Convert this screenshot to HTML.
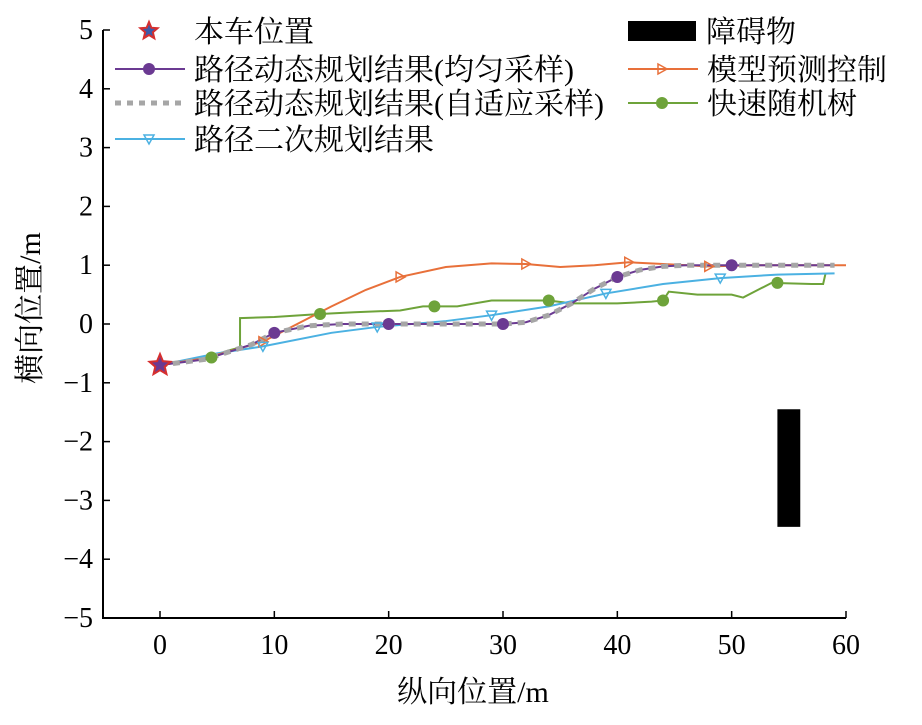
<!DOCTYPE html>
<html><head><meta charset="utf-8"><style>
body{margin:0;background:#fff}
svg text{font-family:"Liberation Serif","Noto Serif CJK SC",serif;fill:#000}
</style></head><body>
<svg id="c" width="922" height="720"></svg>
<script>
const xTicks=[0,10,20,30,40,50,60];
const yTicks=[-5,-4,-3,-2,-1,0,1,2,3,4,5];
const purpleX=[0,4,8,10,13,16,20,25,30,32,34,36,38,40,42,44,46,50,55,59];
const purpleY=[-0.7,-0.6,-0.35,-0.15,-0.03,0,0,0,0,0.03,0.15,0.35,0.6,0.8,0.92,0.98,1,1,1,1];
const purpleMarkX=[10,20,30,40,50];
const purpleMarkY=[-0.15,0,0,0.8,1];
const orangeX=[0,4,9,12,15,18,21,25,29,32,35,38,41,44,48,52,56,60];
const orangeY=[-0.7,-0.58,-0.3,0,0.3,0.58,0.8,0.97,1.03,1.02,0.97,1.0,1.05,1.02,0.98,1.0,1.0,1.0];
const orangeMarkX=[9,21,32,41,48];
const orangeMarkY=[-0.3,0.8,1.02,1.05,0.98];
const blueX=[0,5,9,15,19,25,29,34,39,44,49,54,59];
const blueY=[-0.7,-0.5,-0.38,-0.15,-0.05,0.05,0.15,0.3,0.52,0.68,0.78,0.84,0.86];
const blueMarkX=[9,19,29,39,49];
const blueMarkY=[-0.38,-0.05,0.15,0.52,0.78];
const greenX=[0,4,6,7,7,10,14,17,21,23,26,29,32,34,36,40,43,44,44.5,47,50,51,52,53.5,57,58,58.2];
const greenY=[-0.7,-0.58,-0.45,-0.4,0.1,0.12,0.17,0.2,0.23,0.3,0.3,0.4,0.4,0.4,0.35,0.35,0.38,0.4,0.55,0.5,0.5,0.45,0.55,0.7,0.68,0.68,0.85];
const greenMarkX=[4.5,14,24,34,44,54];
const greenMarkY=[-0.57,0.17,0.3,0.4,0.4,0.7];
const obstacle=[54,56,-1.45,-3.45];

const L=103,R=846,T=30,B=618;
const sx=v=>160+(v)*(846-160)/60;
const sy=v=>324-v*58.8;
const svg=document.getElementById('c');
const NS='http://www.w3.org/2000/svg';
function mk(t,a,p){const e=document.createElementNS(NS,t);for(const k in a)e.setAttribute(k,a[k]);(p||svg).appendChild(e);return e;}
let ob=mk('rect',{x:sx(obstacle[0]),y:sy(obstacle[2]),width:sx(obstacle[1])-sx(obstacle[0]),height:sy(obstacle[3])-sy(obstacle[2]),fill:'#000'});


let ax=mk('path',{d:`M${L},${T}V${B}H${R}`,stroke:'#000','stroke-width':2,fill:'none'});


xTicks.forEach(v=>{mk('line',{x1:sx(v),x2:sx(v),y1:B,y2:B-7,stroke:'#000','stroke-width':1.5});
 const t=mk('text',{x:sx(v),y:654,'font-size':28,'text-anchor':'middle'});t.textContent=v;
 
 });
yTicks.forEach(v=>{mk('line',{x1:L,x2:L+7,y1:sy(v),y2:sy(v),stroke:'#000','stroke-width':1.5});
 const t=mk('text',{x:93,y:sy(v)+9,'font-size':28,'text-anchor':'end'});t.textContent=(v<0?'\u2212'+(-v):v);
 
 });
let xt=mk('text',{x:473,y:702,'font-size':30,'text-anchor':'middle'});xt.textContent='纵向位置/m';


let yt=mk('text',{x:0,y:0,'font-size':30,'text-anchor':'middle',transform:'translate(40,308) rotate(-90)'});yt.textContent='横向位置/m';


function line(xs,ys,col,w,dash,name){const d=xs.map((x,i)=>(i?'L':'M')+sx(x)+','+sy(ys[i])).join('');
 const p=mk('path',{d,stroke:col,'stroke-width':w,fill:'none','stroke-dasharray':dash||'none'});
 
 }
function marker(type,x,y,col,p){
 if(type=='circle')mk('circle',{cx:x,cy:y,r:6,fill:col},p);
 else if(type=='tri-right')mk('path',{d:`M${x-4},${y-5}L${x+5},${y}L${x-4},${y+5}Z`,fill:'none',stroke:col,'stroke-width':1.5},p);
 else if(type=='tri-down')mk('path',{d:`M${x-5},${y-4}L${x+5},${y-4}L${x},${y+5}Z`,fill:'none',stroke:col,'stroke-width':1.5},p);}
line(greenX,greenY,'#6ea33a',2,null,'series-rrt');
line(blueX,blueY,'#4bb1e2',2,null,'series-secondary-planning');
line(orangeX,orangeY,'#e8703a',2,null,'series-mpc');
line(purpleX,purpleY,'#6b3a92',2,null,'series-uniform');
line(purpleX,purpleY,'#a6a6a6',5,'7,6','series-adaptive');
purpleMarkX.forEach((x,i)=>marker('circle',sx(x),sy(purpleMarkY[i]),'#6b3a92'));
orangeMarkX.forEach((x,i)=>marker('tri-right',sx(x),sy(orangeMarkY[i]),'#e8703a'));
blueMarkX.forEach((x,i)=>marker('tri-down',sx(x),sy(blueMarkY[i]),'#4bb1e2'));
greenMarkX.forEach((x,i)=>marker('circle',sx(x),sy(greenMarkY[i]),'#6ea33a'));
function star(cx,cy,r,col,fill){let d='';for(let i=0;i<10;i++){const a=-Math.PI/2+i*Math.PI/5,rr=i%2?r*0.45:r;d+=(i?'L':'M')+(cx+rr*Math.cos(a))+','+(cy+rr*Math.sin(a));}
 mk('path',{d:d+'Z',fill:fill,stroke:col,'stroke-width':2});}
star(sx(0),sy(-0.7),11,'#d62f2f','#6b3a92');
const leg=[[115,31,'star','本车位置'],[115,69,'purple','路径动态规划结果(均匀采样)'],[115,103,'gray','路径动态规划结果(自适应采样)'],[115,139,'blue','路径二次规划结果'],
[628,31,'black','障碍物'],[628,69,'orange','模型预测控制'],[628,103,'green','快速随机树']];
leg.forEach(([x,y,k,txt])=>{const g=mk('g',{});
 
 
 const xm=x+34;
 if(k=='star')star(xm,y,9,'#d62f2f','#3d5aa8');
 else if(k=='black')mk('rect',{x:x,y:y-10,width:68,height:20,fill:'#000'},g);
 else{const c={purple:'#6b3a92',gray:'#a6a6a6',blue:'#4bb1e2',orange:'#e8703a',green:'#6ea33a'}[k];
  mk('line',{x1:x,x2:x+70,y1:y,y2:y,stroke:c,'stroke-width':k=='gray'?5:2,'stroke-dasharray':k=='gray'?'6,6':'none'},g);
  if(k=='purple'||k=='green')marker('circle',xm,y,c,g);
  if(k=='orange')marker('tri-right',xm,y,c,g);
  if(k=='blue')marker('tri-down',xm,y,c,g);}
 const t=mk('text',{x:x+(k=='black'?78:79),y:y+11,'font-size':30},g);t.textContent=txt;});
</script>
</body></html>
